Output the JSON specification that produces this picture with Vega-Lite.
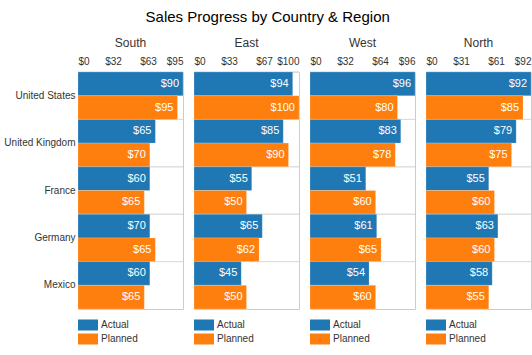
{
  "$schema": "https://vega.github.io/schema/vega-lite/v6.json",
  "background": "white",
  "padding": {"left": 3, "right": 5, "top": 9, "bottom": 5},
  "title": {"text": "Sales Progress by Country & Region", "fontSize": 15, "fontWeight": "normal", "color": "#000", "font": "Liberation Sans", "offset": 12, "anchor": "middle"},
  "config": {
    "font": "Liberation Sans",
    "view": {"stroke": "#ccc", "strokeWidth": 1},
    "concat": {"spacing": 9},
    "title": {"font": "Liberation Sans"},
    "axisX": {"labelOverlap": false}
  },
  "data": {"values": [
    {"region": "South", "country": "United States", "series": "Actual", "value": 95, "label": 90},
    {"region": "South", "country": "United States", "series": "Planned", "value": 90, "label": 95},
    {"region": "South", "country": "United Kingdom", "series": "Actual", "value": 70, "label": 65},
    {"region": "South", "country": "United Kingdom", "series": "Planned", "value": 65, "label": 70},
    {"region": "South", "country": "France", "series": "Actual", "value": 65, "label": 60},
    {"region": "South", "country": "France", "series": "Planned", "value": 60, "label": 65},
    {"region": "South", "country": "Germany", "series": "Actual", "value": 65, "label": 70},
    {"region": "South", "country": "Germany", "series": "Planned", "value": 70, "label": 65},
    {"region": "South", "country": "Mexico", "series": "Actual", "value": 65, "label": 60},
    {"region": "South", "country": "Mexico", "series": "Planned", "value": 60, "label": 65},
    {"region": "East", "country": "United States", "series": "Actual", "value": 94, "label": 94},
    {"region": "East", "country": "United States", "series": "Planned", "value": 100, "label": 100},
    {"region": "East", "country": "United Kingdom", "series": "Actual", "value": 85, "label": 85},
    {"region": "East", "country": "United Kingdom", "series": "Planned", "value": 90, "label": 90},
    {"region": "East", "country": "France", "series": "Actual", "value": 55, "label": 55},
    {"region": "East", "country": "France", "series": "Planned", "value": 50, "label": 50},
    {"region": "East", "country": "Germany", "series": "Actual", "value": 65, "label": 65},
    {"region": "East", "country": "Germany", "series": "Planned", "value": 62, "label": 62},
    {"region": "East", "country": "Mexico", "series": "Actual", "value": 45, "label": 45},
    {"region": "East", "country": "Mexico", "series": "Planned", "value": 50, "label": 50},
    {"region": "West", "country": "United States", "series": "Actual", "value": 96, "label": 96},
    {"region": "West", "country": "United States", "series": "Planned", "value": 80, "label": 80},
    {"region": "West", "country": "United Kingdom", "series": "Actual", "value": 83, "label": 83},
    {"region": "West", "country": "United Kingdom", "series": "Planned", "value": 78, "label": 78},
    {"region": "West", "country": "France", "series": "Actual", "value": 51, "label": 51},
    {"region": "West", "country": "France", "series": "Planned", "value": 60, "label": 60},
    {"region": "West", "country": "Germany", "series": "Actual", "value": 61, "label": 61},
    {"region": "West", "country": "Germany", "series": "Planned", "value": 65, "label": 65},
    {"region": "West", "country": "Mexico", "series": "Actual", "value": 54, "label": 54},
    {"region": "West", "country": "Mexico", "series": "Planned", "value": 60, "label": 60},
    {"region": "North", "country": "United States", "series": "Actual", "value": 92, "label": 92},
    {"region": "North", "country": "United States", "series": "Planned", "value": 85, "label": 85},
    {"region": "North", "country": "United Kingdom", "series": "Actual", "value": 79, "label": 79},
    {"region": "North", "country": "United Kingdom", "series": "Planned", "value": 75, "label": 75},
    {"region": "North", "country": "France", "series": "Actual", "value": 55, "label": 55},
    {"region": "North", "country": "France", "series": "Planned", "value": 60, "label": 60},
    {"region": "North", "country": "Germany", "series": "Actual", "value": 63, "label": 63},
    {"region": "North", "country": "Germany", "series": "Planned", "value": 60, "label": 60},
    {"region": "North", "country": "Mexico", "series": "Actual", "value": 58, "label": 58},
    {"region": "North", "country": "Mexico", "series": "Planned", "value": 55, "label": 55}
  ]},
  "resolve": {"scale": {"x": "independent"}, "legend": {"color": "independent"}},
  "hconcat": [
    {
      "title": {"text": "South", "fontSize": 12, "fontWeight": "normal", "color": "#333", "anchor": "middle", "frame": "group", "offset": 6},
      "width": 105, "height": 237,
      "transform": [{"filter": "datum.region === 'South'"}],
      "encoding": {
        "y": {"field": "country", "type": "nominal", "sort": ["United States", "United Kingdom", "France", "Germany", "Mexico"], "scale": {"paddingInner": 0, "paddingOuter": 0}, "axis": {"title": null, "ticks": false, "domain": false, "grid": false, "labelFontSize": 10, "labelColor": "#333", "labelPadding": 3}}
      },
      "layer": [
        {"mark": {"type": "rule", "color": "#ddd", "strokeWidth": 1}, "encoding": {"y": {"field": "country", "type": "nominal", "bandPosition": 0, "sort": ["United States", "United Kingdom", "France", "Germany", "Mexico"]}}},
        {"mark": {"type": "bar", "stroke": "#fff", "strokeWidth": 0.5, "strokeOpacity": 0.4},
         "encoding": {
           "yOffset": {"field": "series", "sort": ["Actual", "Planned"], "scale": {"paddingInner": 0, "paddingOuter": 0}},
           "x": {"field": "value", "type": "quantitative", "scale": {"zero": true, "nice": false}, "axis": {"orient": "top", "title": null, "values": [0, 31.667, 63.333, 95], "format": "$.0f", "ticks": false, "domain": false, "grid": false, "labelFlush": true, "labelOverlap": false, "labelFontSize": 10, "labelColor": "#333", "labelPadding": 6}},
           "color": {"field": "series", "type": "nominal", "scale": {"domain": ["Actual", "Planned"], "range": ["#1f77b4", "#ff7f0e"]}, "legend": {"orient": "bottom", "direction": "vertical", "title": null, "symbolType": "M-1,-1.1H3V1.1H-1Z", "symbolSize": 100, "symbolStrokeWidth": 0, "symbolOpacity": 1, "labelFontSize": 10, "labelColor": "#333", "labelOffset": 13, "rowPadding": 2, "offset": 11}}
         }},
        {"mark": {"type": "text", "align": "right", "dx": -4, "color": "white", "fontSize": 11},
         "encoding": {
           "yOffset": {"field": "series", "sort": ["Actual", "Planned"], "scale": {"paddingInner": 0, "paddingOuter": 0}},
           "x": {"field": "value", "type": "quantitative", "axis": {"orient": "top", "title": null, "values": [0, 31.667, 63.333, 95], "format": "$.0f", "ticks": false, "domain": false, "grid": false, "labelFlush": true, "labelOverlap": false, "labelFontSize": 10, "labelColor": "#333", "labelPadding": 6}},
           "text": {"field": "label", "type": "quantitative", "format": "$.0f"}
         }}
      ]
    },
    {
      "title": {"text": "East", "fontSize": 12, "fontWeight": "normal", "color": "#333", "anchor": "middle", "frame": "group", "offset": 6},
      "width": 105, "height": 237,
      "transform": [{"filter": "datum.region === 'East'"}],
      "encoding": {
        "y": {"field": "country", "type": "nominal", "sort": ["United States", "United Kingdom", "France", "Germany", "Mexico"], "scale": {"paddingInner": 0, "paddingOuter": 0}, "axis": null}
      },
      "layer": [
        {"mark": {"type": "rule", "color": "#ddd", "strokeWidth": 1}, "encoding": {"y": {"field": "country", "type": "nominal", "bandPosition": 0, "sort": ["United States", "United Kingdom", "France", "Germany", "Mexico"], "axis": null}}},
        {"mark": {"type": "bar", "stroke": "#fff", "strokeWidth": 0.5, "strokeOpacity": 0.4},
         "encoding": {
           "yOffset": {"field": "series", "sort": ["Actual", "Planned"], "scale": {"paddingInner": 0, "paddingOuter": 0}},
           "x": {"field": "value", "type": "quantitative", "scale": {"zero": true, "nice": false}, "axis": {"orient": "top", "title": null, "values": [0, 33.333, 66.667, 100], "format": "$.0f", "ticks": false, "domain": false, "grid": false, "labelFlush": true, "labelOverlap": false, "labelFontSize": 10, "labelColor": "#333", "labelPadding": 6}},
           "color": {"field": "series", "type": "nominal", "scale": {"domain": ["Actual", "Planned"], "range": ["#1f77b4", "#ff7f0e"]}, "legend": {"orient": "bottom", "direction": "vertical", "title": null, "symbolType": "M-1,-1.1H3V1.1H-1Z", "symbolSize": 100, "symbolStrokeWidth": 0, "symbolOpacity": 1, "labelFontSize": 10, "labelColor": "#333", "labelOffset": 13, "rowPadding": 2, "offset": 11}}
         }},
        {"mark": {"type": "text", "align": "right", "dx": -4, "color": "white", "fontSize": 11},
         "encoding": {
           "yOffset": {"field": "series", "sort": ["Actual", "Planned"], "scale": {"paddingInner": 0, "paddingOuter": 0}},
           "x": {"field": "value", "type": "quantitative", "axis": {"orient": "top", "title": null, "values": [0, 33.333, 66.667, 100], "format": "$.0f", "ticks": false, "domain": false, "grid": false, "labelFlush": true, "labelOverlap": false, "labelFontSize": 10, "labelColor": "#333", "labelPadding": 6}},
           "text": {"field": "label", "type": "quantitative", "format": "$.0f"}
         }}
      ]
    },
    {
      "title": {"text": "West", "fontSize": 12, "fontWeight": "normal", "color": "#333", "anchor": "middle", "frame": "group", "offset": 6},
      "width": 105, "height": 237,
      "transform": [{"filter": "datum.region === 'West'"}],
      "encoding": {
        "y": {"field": "country", "type": "nominal", "sort": ["United States", "United Kingdom", "France", "Germany", "Mexico"], "scale": {"paddingInner": 0, "paddingOuter": 0}, "axis": null}
      },
      "layer": [
        {"mark": {"type": "rule", "color": "#ddd", "strokeWidth": 1}, "encoding": {"y": {"field": "country", "type": "nominal", "bandPosition": 0, "sort": ["United States", "United Kingdom", "France", "Germany", "Mexico"], "axis": null}}},
        {"mark": {"type": "bar", "stroke": "#fff", "strokeWidth": 0.5, "strokeOpacity": 0.4},
         "encoding": {
           "yOffset": {"field": "series", "sort": ["Actual", "Planned"], "scale": {"paddingInner": 0, "paddingOuter": 0}},
           "x": {"field": "value", "type": "quantitative", "scale": {"zero": true, "nice": false}, "axis": {"orient": "top", "title": null, "values": [0, 32, 64, 96], "format": "$.0f", "ticks": false, "domain": false, "grid": false, "labelFlush": true, "labelOverlap": false, "labelFontSize": 10, "labelColor": "#333", "labelPadding": 6}},
           "color": {"field": "series", "type": "nominal", "scale": {"domain": ["Actual", "Planned"], "range": ["#1f77b4", "#ff7f0e"]}, "legend": {"orient": "bottom", "direction": "vertical", "title": null, "symbolType": "M-1,-1.1H3V1.1H-1Z", "symbolSize": 100, "symbolStrokeWidth": 0, "symbolOpacity": 1, "labelFontSize": 10, "labelColor": "#333", "labelOffset": 13, "rowPadding": 2, "offset": 11}}
         }},
        {"mark": {"type": "text", "align": "right", "dx": -4, "color": "white", "fontSize": 11},
         "encoding": {
           "yOffset": {"field": "series", "sort": ["Actual", "Planned"], "scale": {"paddingInner": 0, "paddingOuter": 0}},
           "x": {"field": "value", "type": "quantitative", "axis": {"orient": "top", "title": null, "values": [0, 32, 64, 96], "format": "$.0f", "ticks": false, "domain": false, "grid": false, "labelFlush": true, "labelOverlap": false, "labelFontSize": 10, "labelColor": "#333", "labelPadding": 6}},
           "text": {"field": "label", "type": "quantitative", "format": "$.0f"}
         }}
      ]
    },
    {
      "title": {"text": "North", "fontSize": 12, "fontWeight": "normal", "color": "#333", "anchor": "middle", "frame": "group", "offset": 6},
      "width": 105, "height": 237,
      "transform": [{"filter": "datum.region === 'North'"}],
      "encoding": {
        "y": {"field": "country", "type": "nominal", "sort": ["United States", "United Kingdom", "France", "Germany", "Mexico"], "scale": {"paddingInner": 0, "paddingOuter": 0}, "axis": null}
      },
      "layer": [
        {"mark": {"type": "rule", "color": "#ddd", "strokeWidth": 1}, "encoding": {"y": {"field": "country", "type": "nominal", "bandPosition": 0, "sort": ["United States", "United Kingdom", "France", "Germany", "Mexico"], "axis": null}}},
        {"mark": {"type": "bar", "stroke": "#fff", "strokeWidth": 0.5, "strokeOpacity": 0.4},
         "encoding": {
           "yOffset": {"field": "series", "sort": ["Actual", "Planned"], "scale": {"paddingInner": 0, "paddingOuter": 0}},
           "x": {"field": "value", "type": "quantitative", "scale": {"zero": true, "nice": false}, "axis": {"orient": "top", "title": null, "values": [0, 30.667, 61.333, 92], "format": "$.0f", "ticks": false, "domain": false, "grid": false, "labelFlush": true, "labelOverlap": false, "labelFontSize": 10, "labelColor": "#333", "labelPadding": 6}},
           "color": {"field": "series", "type": "nominal", "scale": {"domain": ["Actual", "Planned"], "range": ["#1f77b4", "#ff7f0e"]}, "legend": {"orient": "bottom", "direction": "vertical", "title": null, "symbolType": "M-1,-1.1H3V1.1H-1Z", "symbolSize": 100, "symbolStrokeWidth": 0, "symbolOpacity": 1, "labelFontSize": 10, "labelColor": "#333", "labelOffset": 13, "rowPadding": 2, "offset": 11}}
         }},
        {"mark": {"type": "text", "align": "right", "dx": -4, "color": "white", "fontSize": 11},
         "encoding": {
           "yOffset": {"field": "series", "sort": ["Actual", "Planned"], "scale": {"paddingInner": 0, "paddingOuter": 0}},
           "x": {"field": "value", "type": "quantitative", "axis": {"orient": "top", "title": null, "values": [0, 30.667, 61.333, 92], "format": "$.0f", "ticks": false, "domain": false, "grid": false, "labelFlush": true, "labelOverlap": false, "labelFontSize": 10, "labelColor": "#333", "labelPadding": 6}},
           "text": {"field": "label", "type": "quantitative", "format": "$.0f"}
         }}
      ]
    }
  ]
}
